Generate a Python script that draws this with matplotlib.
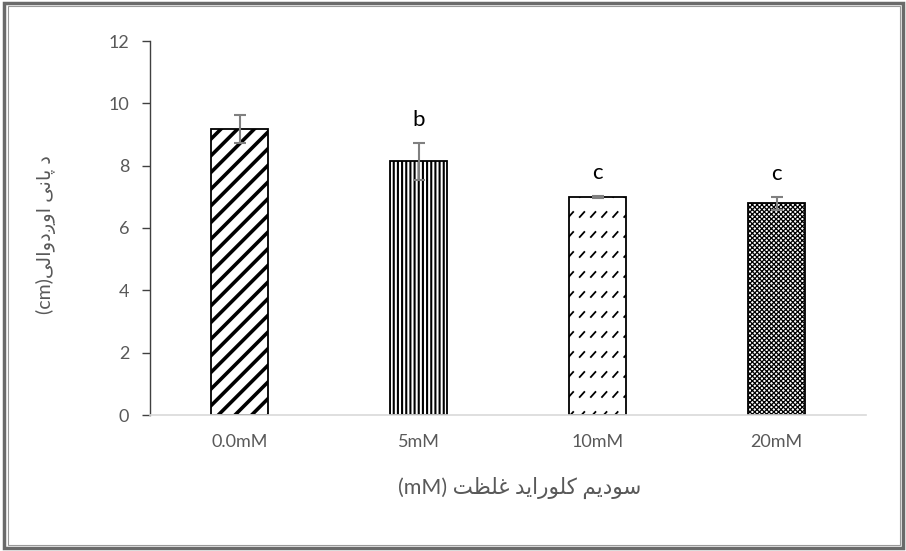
import matplotlib
matplotlib.use("Agg")
import matplotlib.pyplot as plt
import matplotlib.hatch as mhatch
from matplotlib.path import Path
from matplotlib.patches import Rectangle
import numpy as np

# ---------------- data ----------------
categories = ["0.0mM", "5mM", "10mM", "20mM"]
values = [9.18, 8.14, 7.00, 6.80]
errors = [0.44, 0.60, 0.04, 0.21]
letters = ["", "b", "c", "c"]
hatches = ["//", "||||", "O", "xxxxxxx"]
hatch_lws = [2.6, 1.5, 1.3, 0.9]
yticks = [0, 2, 4, 6, 8, 10, 12]
xlabel_ar = "سودیم کلوراید غلظت"
xlabel_unit = "(mM)"
ylabel_ar = "د پانی اوږدوالی"
ylabel_unit = "(cm)"

# ---------------- minimal Arabic-script shaping ----------------
FORMS = {
    'ا': ('\uFE8D', '\uFE8E', None, None),
    'ت': ('\uFE95', '\uFE96', '\uFE97', '\uFE98'),
    'د': ('\uFEA9', '\uFEAA', None, None),
    'ر': ('\uFEAD', '\uFEAE', None, None),
    'س': ('\uFEB1', '\uFEB2', '\uFEB3', '\uFEB4'),
    'ظ': ('\uFEC5', '\uFEC6', '\uFEC7', '\uFEC8'),
    'غ': ('\uFECD', '\uFECE', '\uFECF', '\uFED0'),
    'ل': ('\uFEDD', '\uFEDE', '\uFEDF', '\uFEE0'),
    'م': ('\uFEE1', '\uFEE2', '\uFEE3', '\uFEE4'),
    'ن': ('\uFEE5', '\uFEE6', '\uFEE7', '\uFEE8'),
    'و': ('\uFEED', '\uFEEE', None, None),
    'پ': ('\uFB56', '\uFB57', '\uFB58', '\uFB59'),
    'ک': ('\uFB8E', '\uFB8F', '\uFB90', '\uFB91'),
    'ی': ('\uFBFC', '\uFBFD', '\uFBFE', '\uFBFF'),
    'ږ': ('\u0696', '\u0696', None, None),
}


def dual(ch):
    return ch in FORMS and FORMS[ch][2] is not None


def joining(ch):
    return ch in FORMS


def shape_rtl(s):
    out = []
    for i, ch in enumerate(s):
        if ch not in FORMS:
            out.append(ch)
            continue
        prev = s[i - 1] if i > 0 else ""
        nxt = s[i + 1] if i + 1 < len(s) else ""
        jp = bool(prev) and dual(prev)
        jn = dual(ch) and bool(nxt) and joining(nxt)
        iso, fin, ini, med = FORMS[ch]
        if jp and jn:
            out.append(med)
        elif jp:
            out.append(fin)
        elif jn:
            out.append(ini)
        else:
            out.append(iso)
    return "".join(out[::-1])


# ---------------- custom dashed-slash hatch (replaces 'O') ----------------
class SlashDashes(mhatch.HatchPatternBase):
    def __init__(self, hatch, density):
        n = hatch.count('O')
        self.rows = 5 if n else 0
        self.cols = 9 if n else 0
        self.num_vertices = self.rows * self.cols * 2

    def set_vertices_and_codes(self, vertices, codes):
        k = 0
        for r in range(self.rows):
            for c in range(self.cols):
                x0 = c / self.cols + 0.02
                y0 = r / self.rows + 0.03
                vertices[k] = (x0, y0)
                vertices[k + 1] = (x0 + 0.045, y0 + 0.05)
                codes[k] = Path.MOVETO
                codes[k + 1] = Path.LINETO
                k += 2


mhatch._hatch_types = [t for t in mhatch._hatch_types if t is not mhatch.LargeCircles] + [SlashDashes]

# ---------------- figure ----------------
plt.rcParams['font.family'] = ['Lato', 'DejaVu Sans']
fig = plt.figure(figsize=(9.06, 5.51), dpi=100)
ax = fig.add_axes([150 / 906, 1 - 415 / 551, 716 / 906, 374 / 551])

x = np.arange(len(categories))
for i in range(len(categories)):
    with plt.rc_context({'hatch.linewidth': hatch_lws[i], 'hatch.color': 'black'}):
        bars = ax.bar(x[i], values[i], width=0.32, color='white', edgecolor='black',
                      linewidth=1.3, hatch=hatches[i], zorder=2)
        for b in bars:
            if hasattr(b, "set_hatch_linewidth"):
                b.set_hatch_linewidth(hatch_lws[i])

ax.errorbar(x, values, yerr=errors, fmt='none', ecolor='#808080', elinewidth=1.5,
            capsize=4.5, capthick=1.5, zorder=3)

for i, t in enumerate(letters):
    if t:
        ax.annotate(t, (x[i], values[i] + errors[i]), xytext=(0, 9),
                    textcoords='offset points', ha='center', va='bottom',
                    fontsize=16, color='black')

ax.set_xlim(-0.5, len(categories) - 0.5)
ax.set_ylim(0, 12)
ax.set_yticks(yticks)
ax.set_xticks(x)
ax.set_xticklabels(categories)

for s in ['top', 'right']:
    ax.spines[s].set_visible(False)
ax.spines['left'].set_color('#404040')
ax.spines['left'].set_linewidth(1.0)
ax.spines['bottom'].set_color('#d9d9d9')
ax.spines['bottom'].set_linewidth(1.2)

ax.tick_params(axis='y', length=6, width=1, color='#404040', labelsize=13,
               labelcolor='#595959', pad=9)
ax.tick_params(axis='x', length=0, labelsize=13, labelcolor='#595959', pad=14)

fig.text(520 / 906, 1 - 488 / 551, xlabel_unit + " " + shape_rtl(xlabel_ar),
         ha='center', va='center', fontsize=15.5, color='#595959')
fig.text(46 / 906, 1 - 235 / 551, ylabel_unit + shape_rtl(ylabel_ar),
         ha='center', va='center', rotation=90, fontsize=14, color='#595959')

# double frame around the chart
fig.patches.append(Rectangle((4 / 906, 3 / 551), 899 / 906, 545 / 551,
                             transform=fig.transFigure, fill=False,
                             edgecolor='#6a6a6a', linewidth=2.5))
fig.patches.append(Rectangle((8 / 906, 6 / 551), 892 / 906, 539 / 551,
                             transform=fig.transFigure, fill=False,
                             edgecolor='#9a9a9a', linewidth=0.8))

fig.savefig("out.png", dpi=100)
